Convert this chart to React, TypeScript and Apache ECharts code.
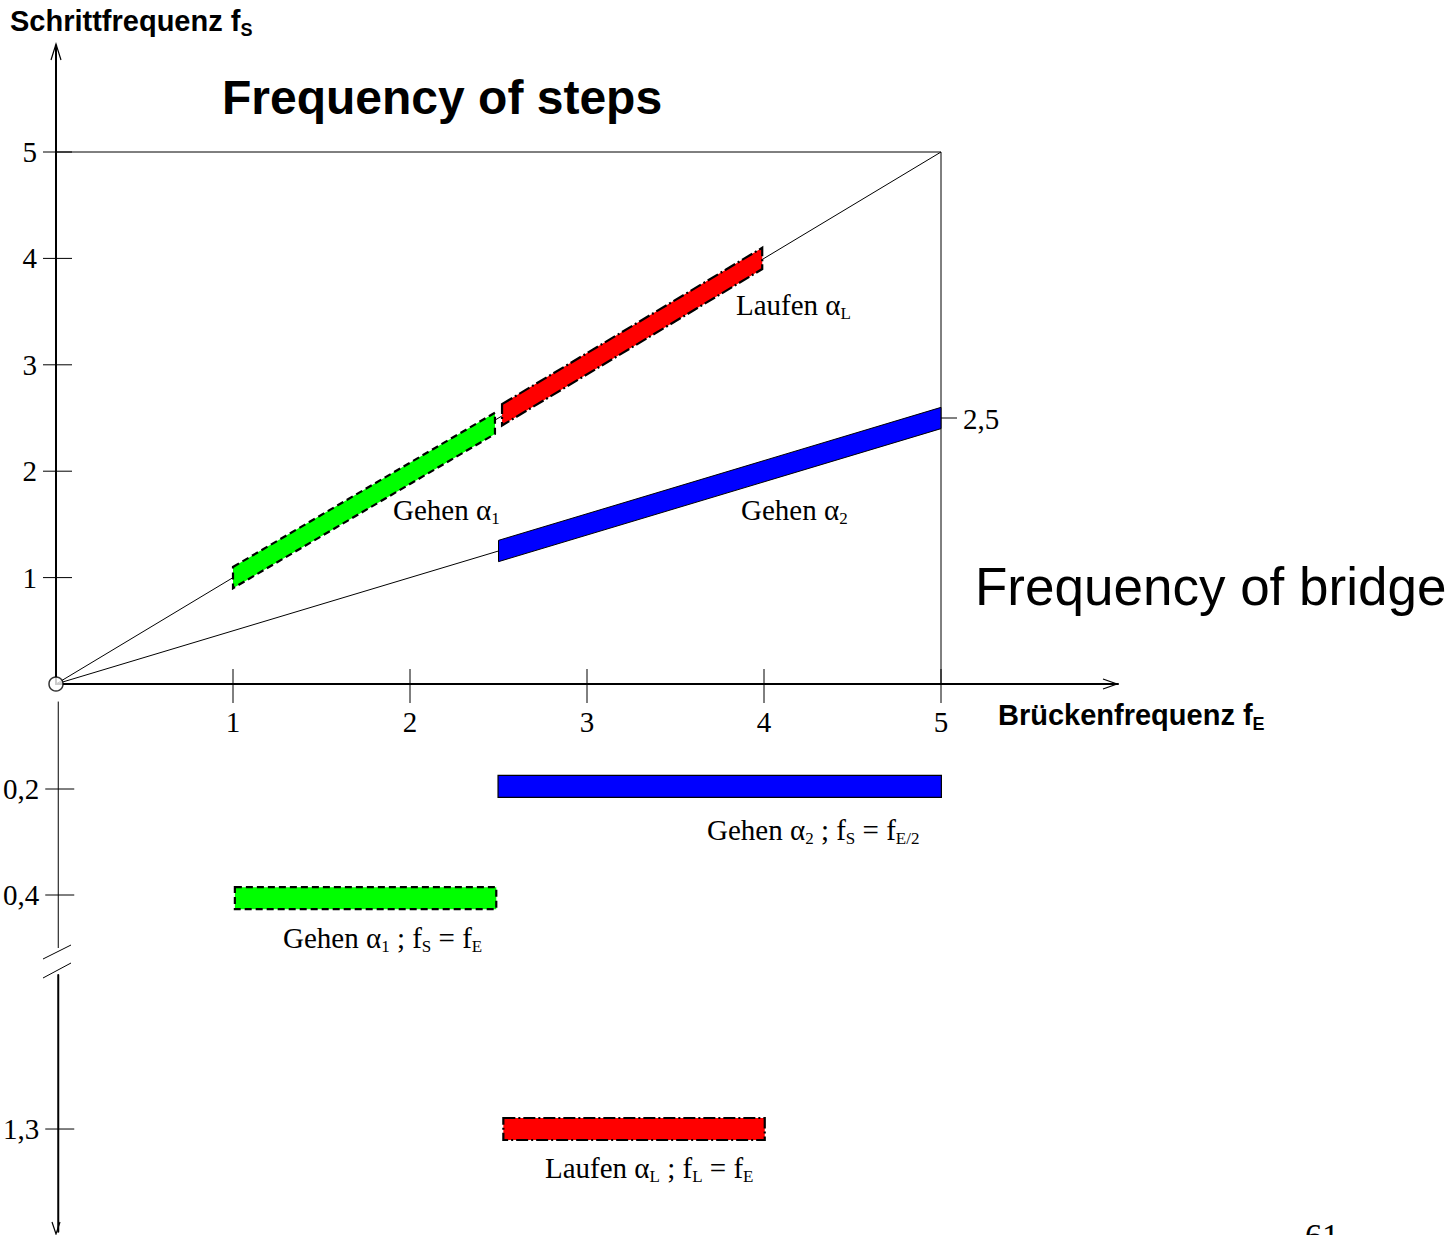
import React, { useEffect, useRef } from 'react';
import * as echarts from 'echarts';

// ---- data ----
const xTickValues = [1, 2, 3, 4, 5];
const yTickValues = [1, 2, 3, 4, 5];
const lowerTickValuesA = [0.2, 0.4];
const lowerTickValuesB = [1.3];
const markerPoint = [5, 2.5];

// guide lines
const diagonalFull = [[0, 0], [5, 5]];
const diagonalHalf = [[0, 0], [5, 2.5]];
const frameLine = [[0, 5], [5, 5], [5, 0]];
const origin = [[0, 0]];
const lowerAxisA = [[0, 0.035], [0, 0.5]];

// bands on the diagram: [x0, y0, x1, y1, halfWidth]
const gehen1Band = [1.0, 1.0, 2.48, 2.45, 0.1];
const laufenBand = [2.52, 2.53, 3.99, 4.0, 0.1];
const gehen2Band = [2.5, 1.25, 5.0, 2.5, 0.1];

// lower bars: [x0, x1, y]
const gehen2Bar = [2.49, 5.0, 0.195];
const gehen1Bar = [1.0, 2.48, 0.406];
const laufenBar = [2.52, 4.0, 1.3];

const SERIF = 'Liberation Serif';
const SANS = 'Liberation Sans';

const fmt = (v: number) => String(Math.round(v * 10) / 10).replace('.', ',');

function tickRender(params: any, api: any) {
  const p = api.coord([api.value(0), api.value(1)]);
  const kind = api.value(2);
  let shape;
  if (kind === 0) shape = { x1: p[0], y1: p[1] - 15, x2: p[0], y2: p[1] + 19 };
  else if (kind === 1) shape = { x1: p[0] - 13, y1: p[1], x2: p[0] + 16, y2: p[1] };
  else shape = { x1: p[0], y1: p[1], x2: p[0] + 16, y2: p[1] };
  return { type: 'line', shape, style: { stroke: '#000', lineWidth: 1 } };
}

function bandSeries(data: number[], fill: string, lineWidth: number, lineDash: number[] | null) {
  return {
    type: 'custom',
    xAxisIndex: 0,
    yAxisIndex: 0,
    clip: false,
    silent: true,
    z: 5,
    data: [data],
    renderItem: (params: any, api: any) => {
      const x0 = api.value(0), y0 = api.value(1), x1 = api.value(2), y1 = api.value(3), hw = api.value(4);
      const pts = [
        api.coord([x0, y0 + hw]),
        api.coord([x1, y1 + hw]),
        api.coord([x1, y1 - hw]),
        api.coord([x0, y0 - hw]),
      ];
      return {
        type: 'polygon',
        shape: { points: pts },
        style: { fill, stroke: '#000', lineWidth, lineDash: lineDash || undefined },
      };
    },
  };
}

function barSeries(data: number[], gridIdx: number, fill: string, lineWidth: number, lineDash: number[] | null) {
  return {
    type: 'custom',
    xAxisIndex: gridIdx,
    yAxisIndex: gridIdx,
    clip: false,
    silent: true,
    z: 5,
    data: [data],
    renderItem: (params: any, api: any) => {
      const a = api.coord([api.value(0), api.value(2)]);
      const b = api.coord([api.value(1), api.value(2)]);
      const h = 22;
      return {
        type: 'rect',
        shape: { x: a[0], y: a[1] - h / 2, width: b[0] - a[0], height: h },
        style: { fill, stroke: '#000', lineWidth, lineDash: lineDash || undefined },
      };
    },
  };
}

function lineSeries(data: number[][], idx: number, width = 1) {
  return {
    type: 'line',
    xAxisIndex: idx,
    yAxisIndex: idx,
    data,
    symbol: 'none',
    silent: true,
    animation: false,
    z: 2,
    lineStyle: { color: '#000', width },
  };
}

const richSerif = {
  n: { fontFamily: SERIF, fontSize: 29, lineHeight: 30, fill: '#000' },
  s: { fontFamily: SERIF, fontSize: 17, lineHeight: 14, padding: [16, 0, 0, 0], fill: '#000' },
};
const richSansBold = (size: number, sub: number) => ({
  n: { fontFamily: SANS, fontWeight: 'bold', fontSize: size, lineHeight: size + 2, fill: '#000' },
  s: { fontFamily: SANS, fontWeight: 'bold', fontSize: sub, lineHeight: sub - 4, padding: [size + 6 - sub, 0, 0, 0], fill: '#000' },
});

function richText(x: number, y: number, text: string, rich: any) {
  return {
    type: 'text',
    x,
    y,
    silent: true,
    style: { text, rich, verticalAlign: 'middle', align: 'left', fill: '#000' },
  };
}

export default function App() {
  const ref = useRef<HTMLDivElement>(null);
  useEffect(() => {
    if (!ref.current) return;
    const chart = echarts.init(ref.current, null, { renderer: 'svg' });
    const hiddenX = (gridIndex: number) => ({
      type: 'value', gridIndex, min: 0, max: 6,
      axisLine: { show: false }, axisTick: { show: false }, axisLabel: { show: false }, splitLine: { show: false },
    });
    const option: any = {
      animation: false,
      backgroundColor: '#fff',
      grid: [
        { left: 56, top: 45.6, width: 1062, height: 638.4 },
        { left: 56, top: 683, width: 1062, height: 265 },
        { left: 56, top: 975, width: 1062, height: 256.7 },
      ],
      xAxis: [
        {
          type: 'value', gridIndex: 0, min: 0, max: 6,
          axisLine: { show: true, lineStyle: { color: '#000', width: 2 } },
          axisTick: { show: false },
          splitLine: { show: false },
          axisLabel: {
            customValues: xTickValues, formatter: (v: number) => fmt(v), margin: 23,
            fontFamily: SERIF, fontSize: 29, color: '#000',
          },
        },
        hiddenX(1),
        hiddenX(2),
      ],
      yAxis: [
        {
          type: 'value', gridIndex: 0, min: 0, max: 6,
          axisLine: { show: true, lineStyle: { color: '#000', width: 2 } },
          axisTick: { show: false },
          splitLine: { show: false },
          axisLabel: {
            customValues: yTickValues, formatter: (v: number) => fmt(v), margin: 19,
            fontFamily: SERIF, fontSize: 29, color: '#000',
          },
        },
        {
          type: 'value', gridIndex: 1, min: 0, max: 0.5, inverse: true,
          axisLine: { show: false },
          axisTick: { show: false },
          splitLine: { show: false },
          axisLabel: {
            customValues: lowerTickValuesA, formatter: (v: number) => fmt(v), margin: 19,
            fontFamily: SERIF, fontSize: 29, color: '#000',
          },
        },
        {
          type: 'value', gridIndex: 2, min: 1.0, max: 1.5, inverse: true,
          axisLine: { show: true, lineStyle: { color: '#000', width: 2 } },
          axisTick: { show: false },
          splitLine: { show: false },
          axisLabel: {
            customValues: lowerTickValuesB, formatter: (v: number) => fmt(v), margin: 19,
            fontFamily: SERIF, fontSize: 29, color: '#000',
          },
        },
      ],
      series: [
        lineSeries(diagonalFull, 0),
        lineSeries(diagonalHalf, 0),
        lineSeries(frameLine, 0),
        lineSeries(lowerAxisA, 1),
        {
          type: 'custom', xAxisIndex: 0, yAxisIndex: 0, clip: false, silent: true, z: 3,
          data: [
            ...xTickValues.map((v) => [v, 0, 0]),
            ...yTickValues.map((v) => [0, v, 1]),
            [markerPoint[0], markerPoint[1], 2],
          ],
          renderItem: tickRender,
        },
        {
          type: 'custom', xAxisIndex: 1, yAxisIndex: 1, clip: false, silent: true, z: 3,
          data: lowerTickValuesA.map((v) => [0, v, 1]),
          renderItem: tickRender,
        },
        {
          type: 'custom', xAxisIndex: 2, yAxisIndex: 2, clip: false, silent: true, z: 3,
          data: lowerTickValuesB.map((v) => [0, v, 1]),
          renderItem: tickRender,
        },
        bandSeries(gehen2Band, '#0000ff', 1, null),
        bandSeries(gehen1Band, '#00ff00', 2.2, [7, 4]),
        bandSeries(laufenBand, '#ff0000', 2.2, [12, 3, 2, 3]),
        barSeries(gehen2Bar, 1, '#0000ff', 1.2, null),
        barSeries(gehen1Bar, 1, '#00ff00', 2.2, [7, 4]),
        barSeries(laufenBar, 2, '#ff0000', 2.2, [12, 3, 2, 3]),
        {
          type: 'scatter', xAxisIndex: 0, yAxisIndex: 0, data: origin, symbol: 'circle', symbolSize: 14,
          silent: true, z: 10, clip: false,
          itemStyle: { color: '#fff', borderColor: '#000', borderWidth: 1.5 },
        },
      ],
      graphic: [
        { type: 'polyline', silent: true, shape: { points: [[51, 60], [56, 44], [61, 60]] }, style: { stroke: '#000', lineWidth: 1.2, fill: 'none' } },
        { type: 'polyline', silent: true, shape: { points: [[1103, 679], [1117, 684], [1103, 689]] }, style: { stroke: '#000', lineWidth: 1.2, fill: 'none' } },
        { type: 'polyline', silent: true, shape: { points: [[52, 1222], [56, 1234], [60, 1222]] }, style: { stroke: '#000', lineWidth: 1.2, fill: 'none' } },
        { type: 'line', silent: true, shape: { x1: 43, y1: 959, x2: 71, y2: 945 }, style: { stroke: '#000', lineWidth: 1 } },
        { type: 'line', silent: true, shape: { x1: 43, y1: 978, x2: 71, y2: 963 }, style: { stroke: '#000', lineWidth: 1 } },
        richText(10, 21, '{n|Schrittfrequenz f}{s|S}', richSansBold(29, 18)),
        {
          type: 'text', x: 222, y: 97, silent: true,
          style: { text: 'Frequency of steps', fontFamily: SANS, fontWeight: 'bold', fontSize: 48, fill: '#000', verticalAlign: 'middle' },
        },
        {
          type: 'text', x: 975, y: 586, silent: true,
          style: { text: 'Frequency of bridge', fontFamily: SANS, fontSize: 53, fill: '#000', verticalAlign: 'middle' },
        },
        richText(998, 715, '{n|Brückenfrequenz f}{s|E}', richSansBold(29, 18)),
        richText(736, 305, '{n|Laufen α}{s|L}', richSerif),
        richText(393, 510, '{n|Gehen α}{s|1}', richSerif),
        richText(741, 510, '{n|Gehen α}{s|2}', richSerif),
        richText(963, 419, '{n|2,5}', richSerif),
        richText(707, 830, '{n|Gehen α}{s|2}{n| ; f}{s|S}{n| = f}{s|E/2}', richSerif),
        richText(283, 938, '{n|Gehen α}{s|1}{n| ; f}{s|S}{n| = f}{s|E}', richSerif),
        richText(545, 1168, '{n|Laufen α}{s|L}{n| ; f}{s|L}{n| = f}{s|E}', richSerif),
        {
          type: 'text', x: 1305, y: 1218, silent: true,
          style: { text: '61', fontFamily: SERIF, fontSize: 34, fill: '#000', verticalAlign: 'top' },
        },
      ],
    };
    chart.setOption(option);
    return () => chart.dispose();
  }, []);
  return (
    <div
      ref={ref}
      style={{ position: 'absolute', left: 0, top: 0, width: 1456, height: 1235, background: '#fff' }}
    />
  );
}
